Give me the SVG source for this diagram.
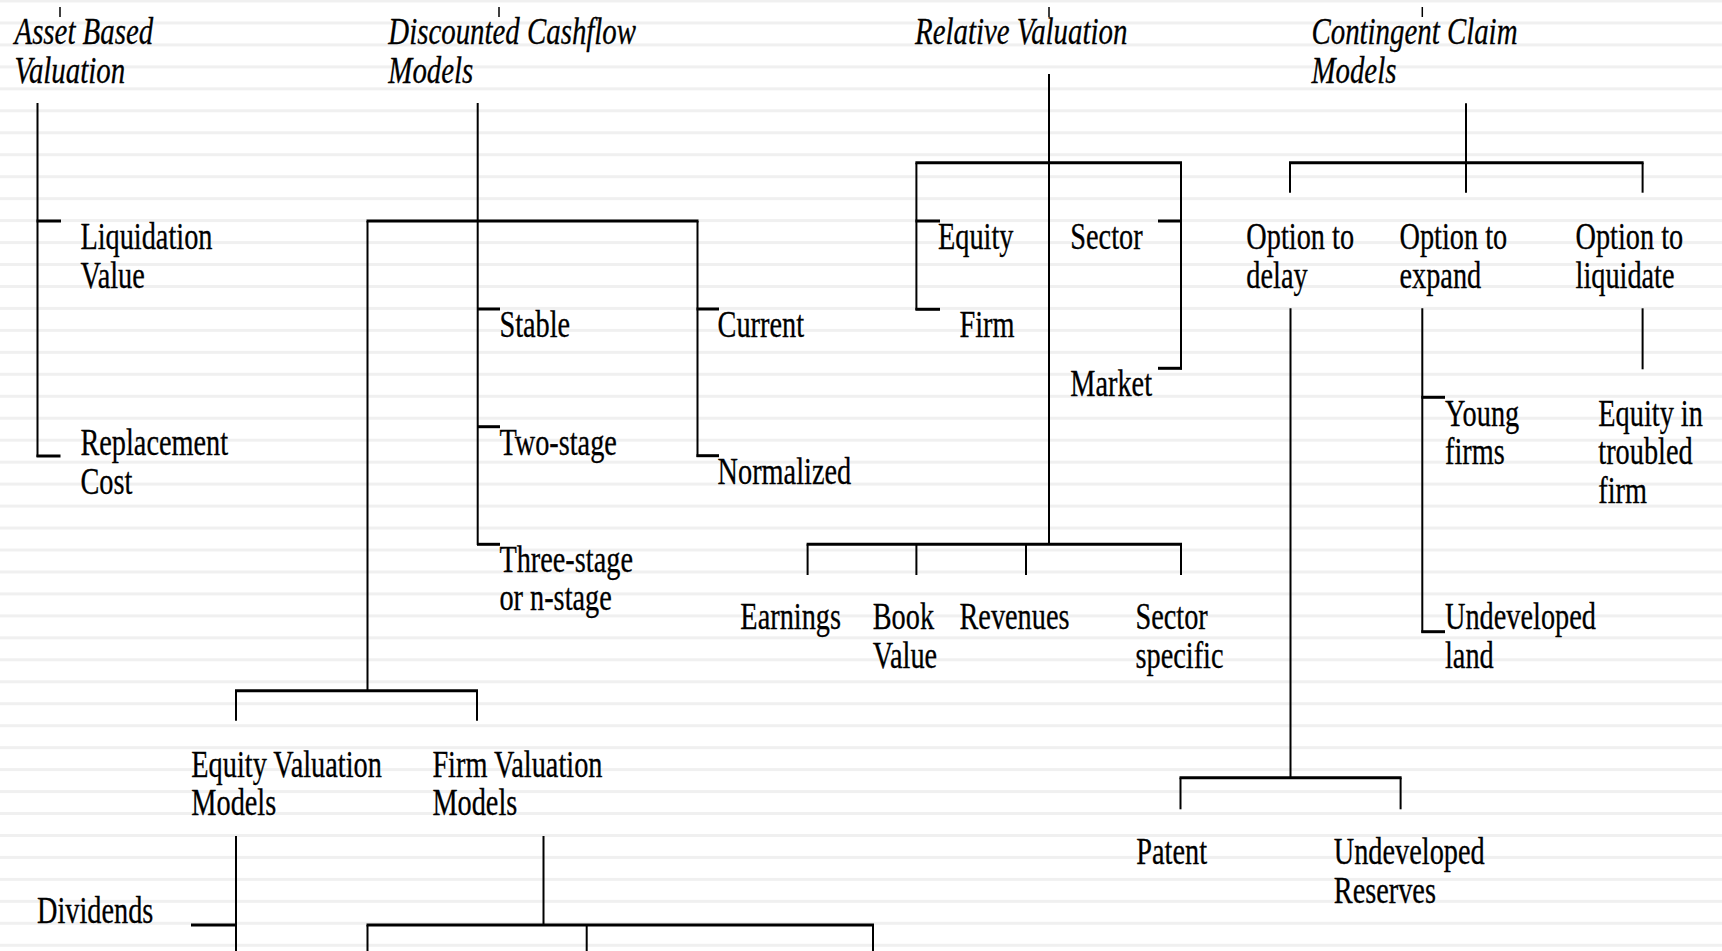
<svg xmlns="http://www.w3.org/2000/svg" width="1722" height="951" viewBox="0 0 1722 951">
<defs>
<pattern id="stripes" patternUnits="userSpaceOnUse" x="0" y="-0.5" width="40" height="21.96">
<rect x="0" y="0" width="40" height="3" fill="#f0f0f0"/>
</pattern>
<style>
.c line{stroke:#000;stroke-width:2;stroke-linecap:butt}
.c line.t{stroke-width:3}
.c line.k{stroke-width:1.5}
</style>
</defs>
<rect width="1722" height="951" fill="#fff"/>
<rect width="1722" height="951" fill="url(#stripes)"/>

<g id="connectors" class="c">
<line class="k" x1="60" y1="7" x2="60" y2="17"/>
<line class="k" x1="499" y1="7" x2="499" y2="17"/>
<line class="k" x1="1049" y1="7" x2="1049" y2="17"/>
<line class="k" x1="1422.3" y1="7" x2="1422.3" y2="17"/>
<line x1="37.5" y1="103" x2="37.5" y2="457"/>
<line class="t" x1="36.5" y1="221" x2="61" y2="221"/>
<line class="t" x1="36.5" y1="456" x2="60.5" y2="456"/>
<line x1="477.7" y1="103" x2="477.7" y2="545"/>
<line class="t" x1="366.5" y1="221" x2="698.5" y2="221"/>
<line x1="367.5" y1="221" x2="367.5" y2="691"/>
<line x1="697.5" y1="221" x2="697.5" y2="457"/>
<line class="t" x1="477" y1="309" x2="500" y2="309"/>
<line class="t" x1="477" y1="426.7" x2="500" y2="426.7"/>
<line class="t" x1="477" y1="544.3" x2="500" y2="544.3"/>
<line class="t" x1="696.5" y1="309" x2="719" y2="309"/>
<line class="t" x1="696.5" y1="455.7" x2="719" y2="455.7"/>
<line class="t" x1="235" y1="690.7" x2="478" y2="690.7"/>
<line x1="236" y1="690.7" x2="236" y2="720.7"/>
<line x1="477" y1="690.7" x2="477" y2="720.7"/>
<line x1="236" y1="836" x2="236" y2="951"/>
<line class="t" x1="191" y1="925" x2="236" y2="925"/>
<line x1="543.5" y1="836" x2="543.5" y2="925"/>
<line class="t" x1="366.5" y1="925" x2="874" y2="925"/>
<line x1="367.5" y1="925" x2="367.5" y2="951"/>
<line x1="586.7" y1="925" x2="586.7" y2="951"/>
<line x1="873" y1="925" x2="873" y2="951"/>
<line x1="1049" y1="74" x2="1049" y2="544.3"/>
<line class="t" x1="915.4" y1="162.7" x2="1182" y2="162.7"/>
<line x1="916.4" y1="162.7" x2="916.4" y2="310"/>
<line class="t" x1="915.4" y1="221" x2="940" y2="221"/>
<line class="t" x1="915.4" y1="309.3" x2="940" y2="309.3"/>
<line x1="1181" y1="162.7" x2="1181" y2="369.5"/>
<line class="t" x1="1158" y1="221" x2="1182" y2="221"/>
<line class="t" x1="1158" y1="368.3" x2="1182" y2="368.3"/>
<line class="t" x1="806.6" y1="544.3" x2="1182" y2="544.3"/>
<line x1="807.6" y1="544.3" x2="807.6" y2="575"/>
<line x1="916.4" y1="544.3" x2="916.4" y2="575"/>
<line x1="1026" y1="544.3" x2="1026" y2="575"/>
<line x1="1181" y1="544.3" x2="1181" y2="575"/>
<line x1="1466" y1="103.3" x2="1466" y2="162.7"/>
<line class="t" x1="1289" y1="162.7" x2="1643.6" y2="162.7"/>
<line x1="1290" y1="162.7" x2="1290" y2="192.7"/>
<line x1="1466" y1="162.7" x2="1466" y2="192.7"/>
<line x1="1642.6" y1="162.7" x2="1642.6" y2="192.7"/>
<line x1="1290.5" y1="308.3" x2="1290.5" y2="777.7"/>
<line class="t" x1="1179.5" y1="777.7" x2="1401.6" y2="777.7"/>
<line x1="1180.5" y1="777.7" x2="1180.5" y2="809.3"/>
<line x1="1400.6" y1="777.7" x2="1400.6" y2="809.3"/>
<line x1="1422.3" y1="308.3" x2="1422.3" y2="632.7"/>
<line class="t" x1="1421.3" y1="397.3" x2="1445" y2="397.3"/>
<line class="t" x1="1421.3" y1="631.7" x2="1445" y2="631.7"/>
<line x1="1642.6" y1="308.3" x2="1642.6" y2="369.3"/>
</g>

<g font-family="Liberation Serif, Times New Roman, serif" font-size="37" fill="#000" stroke="#000" stroke-width="0.3">
<g id="asset" transform="scale(0.78,1)" font-style="italic"><text x="18.6" y="44.3">Asset Based</text><text x="18.6" y="82.7">Valuation</text></g>
<g id="dcf" transform="scale(0.78,1)" font-style="italic"><text x="497.9" y="44.3">Discounted Cashflow</text><text x="497.9" y="82.7">Models</text></g>
<g id="relative" transform="scale(0.78,1)" font-style="italic"><text x="1173.1" y="44.3">Relative Valuation</text></g>
<g id="contingent" transform="scale(0.78,1)" font-style="italic"><text x="1681.4" y="44.3">Contingent Claim</text><text x="1681.4" y="82.7">Models</text></g>

<g id="liquidation" transform="scale(0.765,1)"><text x="105.1" y="249.3">Liquidation</text><text x="105.1" y="288">Value</text></g>
<g id="replacement" transform="scale(0.765,1)"><text x="105.1" y="455">Replacement</text><text x="105.1" y="493.7">Cost</text></g>

<g id="stable" transform="scale(0.765,1)"><text x="652.8" y="337">Stable</text></g>
<g id="twostage" transform="scale(0.765,1)"><text x="652.8" y="455">Two-stage</text></g>
<g id="threestage" transform="scale(0.765,1)"><text x="652.8" y="571.7">Three-stage</text><text x="652.8" y="610.3">or n-stage</text></g>
<g id="current" transform="scale(0.765,1)"><text x="938" y="337">Current</text></g>
<g id="normalized" transform="scale(0.765,1)"><text x="938" y="483.7">Normalized</text></g>

<g id="equityval" transform="scale(0.765,1)"><text x="250.1" y="777">Equity Valuation</text><text x="250.1" y="815.3">Models</text></g>
<g id="firmval" transform="scale(0.765,1)"><text x="565.2" y="777">Firm Valuation</text><text x="565.2" y="815.3">Models</text></g>
<g id="dividends" transform="scale(0.765,1)"><text x="48.4" y="922.7">Dividends</text></g>

<g id="equity" transform="scale(0.765,1)"><text x="1226.1" y="249.3">Equity</text></g>
<g id="firm" transform="scale(0.765,1)"><text x="1254.2" y="337">Firm</text></g>
<g id="sector" transform="scale(0.765,1)"><text x="1399.1" y="249.3">Sector</text></g>
<g id="market" transform="scale(0.765,1)"><text x="1399.1" y="396">Market</text></g>
<g id="earnings" transform="scale(0.765,1)"><text x="967.8" y="629.3">Earnings</text></g>
<g id="bookvalue" transform="scale(0.765,1)"><text x="1140.8" y="629.3">Book</text><text x="1140.8" y="667.7">Value</text></g>
<g id="revenues" transform="scale(0.765,1)"><text x="1254.2" y="629.3">Revenues</text></g>
<g id="sectorspecific" transform="scale(0.765,1)"><text x="1484.3" y="629.3">Sector</text><text x="1484.3" y="667.7">specific</text></g>

<g id="delay" transform="scale(0.765,1)"><text x="1629.2" y="249.3">Option to</text><text x="1629.2" y="288">delay</text></g>
<g id="expand" transform="scale(0.765,1)"><text x="1829.4" y="249.3">Option to</text><text x="1829.4" y="288">expand</text></g>
<g id="liquidate" transform="scale(0.765,1)"><text x="2059.5" y="249.3">Option to</text><text x="2059.5" y="288">liquidate</text></g>
<g id="young" transform="scale(0.765,1)"><text x="1888.9" y="426">Young</text><text x="1888.9" y="464.3">firms</text></g>
<g id="troubled" transform="scale(0.765,1)"><text x="2089.3" y="426">Equity in</text><text x="2089.3" y="464.3">troubled</text><text x="2089.3" y="502.7">firm</text></g>
<g id="land" transform="scale(0.765,1)"><text x="1888.9" y="629.3">Undeveloped</text><text x="1888.9" y="667.7">land</text></g>
<g id="patent" transform="scale(0.765,1)"><text x="1485.4" y="864.3">Patent</text></g>
<g id="reserves" transform="scale(0.765,1)"><text x="1743.5" y="864.3">Undeveloped</text><text x="1743.5" y="903.3">Reserves</text></g>
</g>
</svg>
